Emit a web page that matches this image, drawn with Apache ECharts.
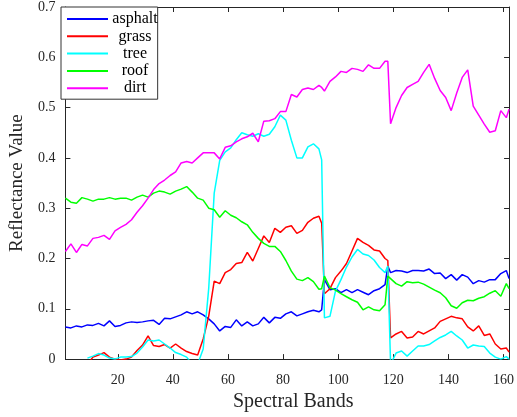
<!DOCTYPE html>
<html>
<head>
<meta charset="utf-8">
<script src="https://cdn.jsdelivr.net/npm/echarts@6/dist/echarts.min.js"></script>
<style>
  html, body { margin: 0; padding: 0; background: #fff; }
  #chart { width: 517px; height: 417px; }
</style>
</head>
<body>
<div id="chart"></div>
<script>
// Spectral band index for every sampled point
const bands = [
  1, 3, 5, 7, 9, 11, 13, 15, 17, 19,
  21, 23, 25, 27, 29, 31, 33, 35, 37, 39,
  41, 43, 45, 47, 49, 51, 53, 55, 57, 59,
  61, 63, 65, 67, 69, 71, 73, 75, 77, 79,
  81, 83, 85, 87, 89, 91, 93, 94, 95, 97,
  99, 101, 103, 105, 107, 109, 111, 113, 115, 117,
  118, 119, 121, 123, 125, 127, 129, 131, 133, 135,
  137, 139, 141, 143, 145, 147, 149, 151, 153, 155,
  157, 159, 161, 162
];

// Endmember reflectance, one value per entry of `bands`
const asphalt = [
  0.064, 0.062, 0.066, 0.064, 0.068, 0.067, 0.071, 0.066, 0.076, 0.065,
  0.067, 0.072, 0.074, 0.073, 0.074, 0.076, 0.077, 0.069, 0.081, 0.080,
  0.084, 0.088, 0.094, 0.090, 0.094, 0.088, 0.080, 0.070, 0.056, 0.065,
  0.063, 0.078, 0.066, 0.074, 0.066, 0.070, 0.083, 0.072, 0.083, 0.081,
  0.090, 0.094, 0.086, 0.090, 0.094, 0.097, 0.094, 0.098, 0.158, 0.138,
  0.140, 0.132, 0.138, 0.132, 0.138, 0.133, 0.128, 0.136, 0.140, 0.148,
  0.185, 0.172, 0.176, 0.175, 0.172, 0.176, 0.176, 0.175, 0.179, 0.170,
  0.171, 0.160, 0.168, 0.157, 0.168, 0.163, 0.150, 0.156, 0.153, 0.158,
  0.158, 0.170, 0.176, 0.160
];

const grass = [
  null, null, null, null, -0.010, 0.004, 0.008, 0.013, 0.004, 0.000,
  -0.002, 0.000, 0.004, 0.017, 0.028, 0.046, 0.027, 0.025, 0.029, 0.022,
  0.030, 0.022, 0.015, 0.011, 0.008, 0.040, 0.085, 0.155, 0.150, 0.172,
  0.178, 0.190, 0.192, 0.212, 0.195, 0.220, 0.245, 0.232, 0.260, 0.252,
  0.262, 0.265, 0.250, 0.256, 0.272, 0.280, 0.284, 0.270, 0.130, 0.140,
  0.162, 0.175, 0.190, 0.215, 0.240, 0.232, 0.226, 0.217, 0.215, 0.200,
  0.196, 0.042, 0.050, 0.055, 0.042, 0.044, 0.055, 0.050, 0.056, 0.062,
  0.075, 0.080, 0.085, 0.082, 0.080, 0.064, 0.056, 0.066, 0.047, 0.050,
  0.030, 0.020, 0.022, 0.014
];

const tree = [
  null, null, null, null, 0.002, 0.006, 0.011, 0.008, 0.002, 0.000,
  0.004, 0.004, 0.005, 0.012, 0.024, 0.038, 0.036, 0.038, 0.030, 0.022,
  0.013, 0.009, 0.004, -0.010, -0.010, 0.020, 0.140, 0.330, 0.395, 0.412,
  0.420, 0.436, 0.450, 0.446, 0.443, 0.448, 0.443, 0.447, 0.462, 0.485,
  0.475, 0.435, 0.400, 0.400, 0.422, 0.428, 0.418, 0.396, 0.082, 0.085,
  0.135, 0.158, 0.183, 0.203, 0.218, 0.209, 0.206, 0.197, 0.182, 0.172,
  0.185, -0.010, 0.012, 0.016, 0.006, 0.016, 0.026, 0.026, 0.029, 0.036,
  0.043, 0.048, 0.055, 0.046, 0.038, 0.022, 0.028, 0.026, 0.025, 0.012,
  0.004, 0.000, 0.005, 0.000
];

const roof = [
  0.320, 0.312, 0.310, 0.321, 0.318, 0.314, 0.318, 0.318, 0.321, 0.318,
  0.320, 0.320, 0.316, 0.322, 0.326, 0.322, 0.330, 0.334, 0.332, 0.328,
  0.334, 0.338, 0.343, 0.332, 0.320, 0.316, 0.300, 0.297, 0.282, 0.295,
  0.286, 0.281, 0.273, 0.267, 0.252, 0.240, 0.230, 0.224, 0.224, 0.214,
  0.196, 0.175, 0.159, 0.156, 0.162, 0.154, 0.139, 0.140, 0.165, 0.142,
  0.137, 0.130, 0.124, 0.118, 0.113, 0.098, 0.104, 0.098, 0.096, 0.108,
  0.165, 0.160, 0.150, 0.145, 0.154, 0.152, 0.153, 0.149, 0.143, 0.137,
  0.132, 0.122, 0.106, 0.101, 0.112, 0.117, 0.116, 0.121, 0.124, 0.131,
  0.136, 0.125, 0.150, 0.140
];

const dirt = [
  0.214, 0.229, 0.212, 0.228, 0.225, 0.240, 0.242, 0.246, 0.238, 0.255,
  0.262, 0.268, 0.277, 0.292, 0.305, 0.320, 0.337, 0.349, 0.356, 0.365,
  0.372, 0.390, 0.393, 0.390, 0.400, 0.410, 0.410, 0.410, 0.398, 0.421,
  0.424, 0.432, 0.438, 0.442, 0.449, 0.432, 0.473, 0.474, 0.478, 0.492,
  0.492, 0.526, 0.521, 0.536, 0.539, 0.536, 0.544, 0.540, 0.533, 0.552,
  0.561, 0.572, 0.570, 0.578, 0.576, 0.572, 0.585, 0.578, 0.578, 0.592,
  0.592, 0.468, 0.500, 0.524, 0.540, 0.546, 0.552, 0.570, 0.586, 0.558,
  0.534, 0.520, 0.494, 0.529, 0.560, 0.575, 0.503, 0.485, 0.467, 0.451,
  0.454, 0.494, 0.480, 0.497
];

const seriesNames = ['asphalt', 'grass', 'tree', 'roof', 'dirt'];
const seriesValues = [asphalt, grass, tree, roof, dirt];
const seriesColors = ['#0000ff', '#ff0000', '#00ffff', '#00ff00', '#ff00ff'];

// Axis ticks
const xTicks = [20, 40, 60, 80, 100, 120, 140, 160];
const yTicks = [0, 0.1, 0.2, 0.3, 0.4, 0.5, 0.6, 0.7];

const FONT = 'Liberation Serif';
const AXIS_COLOR = '#262626';

const chart = echarts.init(document.getElementById('chart'), null, { renderer: 'canvas' });

const pairs = (vals) => bands.map((b, i) => [b, vals[i]]);

// Tick labels go through a rich-text style so the serif face is applied
const tickRich = { t: { fontFamily: FONT, fontSize: 14, color: AXIS_COLOR } };

const boxAxisX = (position, showLabels) => ({
  type: 'value',
  position: position,
  min: 1,
  max: 162,
  splitLine: { show: false },
  axisLine: { show: true, onZero: false, lineStyle: { color: AXIS_COLOR, width: 1 } },
  axisTick: {
    show: true, inside: true, length: 5, customValues: xTicks,
    lineStyle: { color: AXIS_COLOR, width: 1 }
  },
  axisLabel: {
    show: showLabels, customValues: xTicks, margin: 14,
    fontFamily: FONT, fontSize: 14, color: AXIS_COLOR,
    formatter: (v) => '{t|' + v + '}',
    rich: tickRich
  }
});

const boxAxisY = (position, showLabels) => ({
  type: 'value',
  position: position,
  min: 0,
  max: 0.7,
  interval: 0.1,
  splitLine: { show: false },
  axisLine: { show: true, onZero: false, lineStyle: { color: AXIS_COLOR, width: 1 } },
  axisTick: { show: true, inside: true, length: 5, lineStyle: { color: AXIS_COLOR, width: 1 } },
  axisLabel: {
    show: showLabels, margin: 10,
    fontFamily: FONT, fontSize: 14, color: AXIS_COLOR,
    formatter: (v) => {
      const t = yTicks.find((k) => Math.abs(k - v) < 1e-6);
      return t === undefined ? '' : '{t|' + t + '}';
    },
    rich: tickRich
  }
});

const xBottom = Object.assign(boxAxisX('bottom', true), {
  name: 'Spectral Bands',
  nameLocation: 'middle',
  nameGap: 29,
  nameTextStyle: { color: AXIS_COLOR, fontFamily: FONT, fontSize: 20, padding: [0, 0, 0, 12] }
});
const xTop = boxAxisX('top', false);

const yLeft = Object.assign(boxAxisY('left', true), {
  name: 'Reflectance Value',
  nameLocation: 'middle',
  nameGap: 33,
  nameTextStyle: { color: AXIS_COLOR, fontFamily: FONT, fontSize: 19 }
});
const yRight = boxAxisY('right', false);

chart.setOption({
  animation: false,
  backgroundColor: '#ffffff',
  textStyle: { fontFamily: FONT },
  grid: { left: 61, right: 1, top: 7, bottom: 50, containLabel: false },
  xAxis: [xBottom, xTop],
  yAxis: [yLeft, yRight],
  legend: {
    orient: 'vertical',
    left: 61,
    top: 7,
    icon: 'rect',
    itemWidth: 41,
    itemHeight: 2,
    itemGap: 1.3,
    padding: [4, 0, 3, 6],
    backgroundColor: '#ffffff',
    borderColor: '#333333',
    borderWidth: 1,
    data: seriesNames,
    formatter: '{n|{name}}',
    textStyle: {
      color: '#000000',
      fontFamily: FONT,
      fontSize: 16,
      lineHeight: 16,
      rich: { n: { width: 44, align: 'center', fontFamily: FONT, fontSize: 16, lineHeight: 16 } }
    }
  },
  series: seriesNames.map((name, i) => ({
    name: name,
    type: 'line',
    xAxisIndex: 0,
    yAxisIndex: 0,
    data: pairs(seriesValues[i]),
    showSymbol: false,
    symbol: 'none',
    clip: true,
    connectNulls: false,
    color: seriesColors[i],
    lineStyle: { color: seriesColors[i], width: 1.5 },
    emphasis: { disabled: true }
  }))
});
</script>
</body>
</html>
